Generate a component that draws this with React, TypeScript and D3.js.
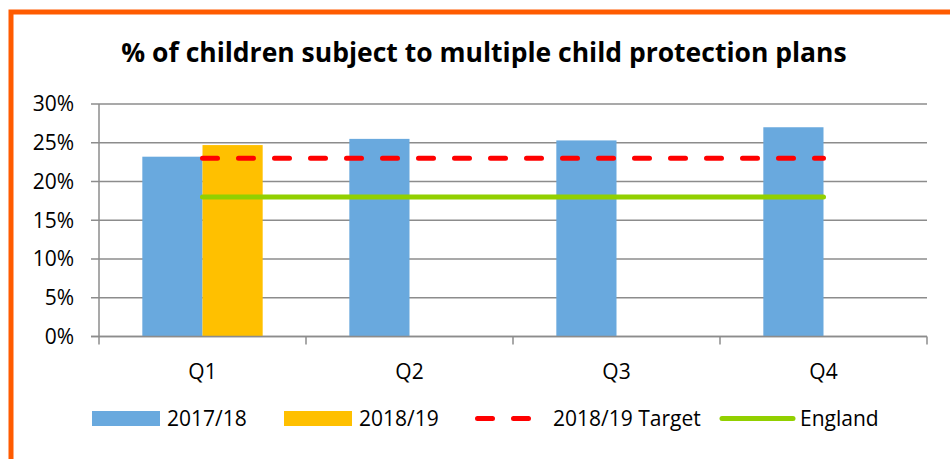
import React from "react";
import * as d3 from "d3";

const categories = ["Q1", "Q2", "Q3", "Q4"];
const series2017 = [0.232, 0.255, 0.253, 0.270];
const series2018 = [0.247, null, null, null];
const target2018 = [0.23, 0.23, 0.23, 0.23];
const england = [0.18, 0.18, 0.18, 0.18];
const yTicks = [0, 0.05, 0.1, 0.15, 0.2, 0.25, 0.3];
const seriesNames = ["2017/18", "2018/19", "2018/19 Target", "England"];

const W = 950;
const H = 459;
const FONT = "'Open Sans', 'Liberation Sans', sans-serif";
const BLUE = "#69A9DE";
const ORANGE = "#FFC000";
const RED = "#FF0000";
const GREEN = "#92D000";
const GRID = "#8C8C8C";

export default function App() {
  const left = 99;
  const right = 927;
  const top = 104;
  const bottom = 336.5;

  const x0 = d3.scaleBand<string>().domain(categories).range([left, right]).padding(0);
  const x1 = d3
    .scaleBand<string>()
    .domain(["a", "b"])
    .range([0, x0.bandwidth()])
    .paddingInner(0)
    .paddingOuter(0.72);
  const y = d3.scaleLinear().domain([0, 0.3]).range([bottom, top]);
  const fmt = d3.format(".0%");

  const cx = (c: string) => (x0(c) as number) + x0.bandwidth() / 2;
  const line = d3
    .line<number>()
    .x((_, i) => cx(categories[i]))
    .y((d) => y(d));

  const legendY = 418.5;
  const fs = 21;

  return (
    <svg
      width={W}
      height={H}
      style={{ position: "absolute", left: 0, top: 0, background: "#fff" }}
      fontFamily={FONT}
    >
      <rect x={0} y={0} width={W} height={H} fill="#fff" />
      <rect x={11} y={12} width={W + 20} height={H + 20} fill="none" stroke="#FF5B00" strokeWidth={5} />

      <text x={484} y={62} textAnchor="middle" fontWeight="bold" fontSize={26.5} fill="#000">
        % of children subject to multiple child protection plans
      </text>

      {/* gridlines */}
      {yTicks.map((t) => (
        <g key={t}>
          <line x1={left - 8} x2={right} y1={y(t)} y2={y(t)} stroke={GRID} strokeWidth={1.5} />
          <text x={74} y={y(t)} dy="0.35em" textAnchor="end" fontSize={fs} fill="#000">
            {fmt(t)}
          </text>
        </g>
      ))}

      {/* bars */}
      {categories.map((c, i) => (
        <g key={c}>
          {series2017[i] != null && (
            <rect
              x={(x0(c) as number) + (x1("a") as number)}
              y={y(series2017[i] as number)}
              width={x1.bandwidth()}
              height={bottom - y(series2017[i] as number)}
              fill={BLUE}
            />
          )}
          {series2018[i] != null && (
            <rect
              x={(x0(c) as number) + (x1("b") as number)}
              y={y(series2018[i] as number)}
              width={x1.bandwidth()}
              height={bottom - y(series2018[i] as number)}
              fill={ORANGE}
            />
          )}
        </g>
      ))}

      {/* axes */}
      <line x1={left} x2={left} y1={top} y2={bottom + 8} stroke={GRID} strokeWidth={1.5} />
      <line x1={left - 8} x2={right} y1={bottom} y2={bottom} stroke={GRID} strokeWidth={1.5} />
      {categories.map((c) => (
        <line key={"t" + c} x1={(x0(c) as number) + x0.bandwidth()} x2={(x0(c) as number) + x0.bandwidth()} y1={bottom} y2={bottom + 8} stroke={GRID} strokeWidth={1.5} />
      ))}
      {categories.map((c) => (
        <text key={"l" + c} x={cx(c)} y={379} textAnchor="middle" fontSize={fs} fill="#000">
          {c}
        </text>
      ))}

      {/* lines */}
      <path d={line(target2018) as string} fill="none" stroke={RED} strokeWidth={5} strokeDasharray="15 21" strokeLinecap="round" />
      <path d={line(england) as string} fill="none" stroke={GREEN} strokeWidth={5} strokeLinecap="round" />

      {/* legend */}
      <rect x={92} y={411} width={68} height={15} fill={BLUE} />
      <text x={167} y={legendY} dy="0.35em" fontSize={fs}>{seriesNames[0]}</text>
      <rect x={284} y={411} width={68} height={15} fill={ORANGE} />
      <text x={359} y={legendY} dy="0.35em" fontSize={fs}>{seriesNames[1]}</text>
      <line x1={477.5} x2={529} y1={legendY} y2={legendY} stroke={RED} strokeWidth={5} strokeDasharray="15 21" strokeLinecap="round" />
      <text x={553} y={legendY} dy="0.35em" fontSize={fs}>{seriesNames[2]}</text>
      <line x1={722} x2={793} y1={legendY} y2={legendY} stroke={GREEN} strokeWidth={5} strokeLinecap="round" />
      <text x={800} y={legendY} dy="0.35em" fontSize={fs}>{seriesNames[3]}</text>
    </svg>
  );
}
